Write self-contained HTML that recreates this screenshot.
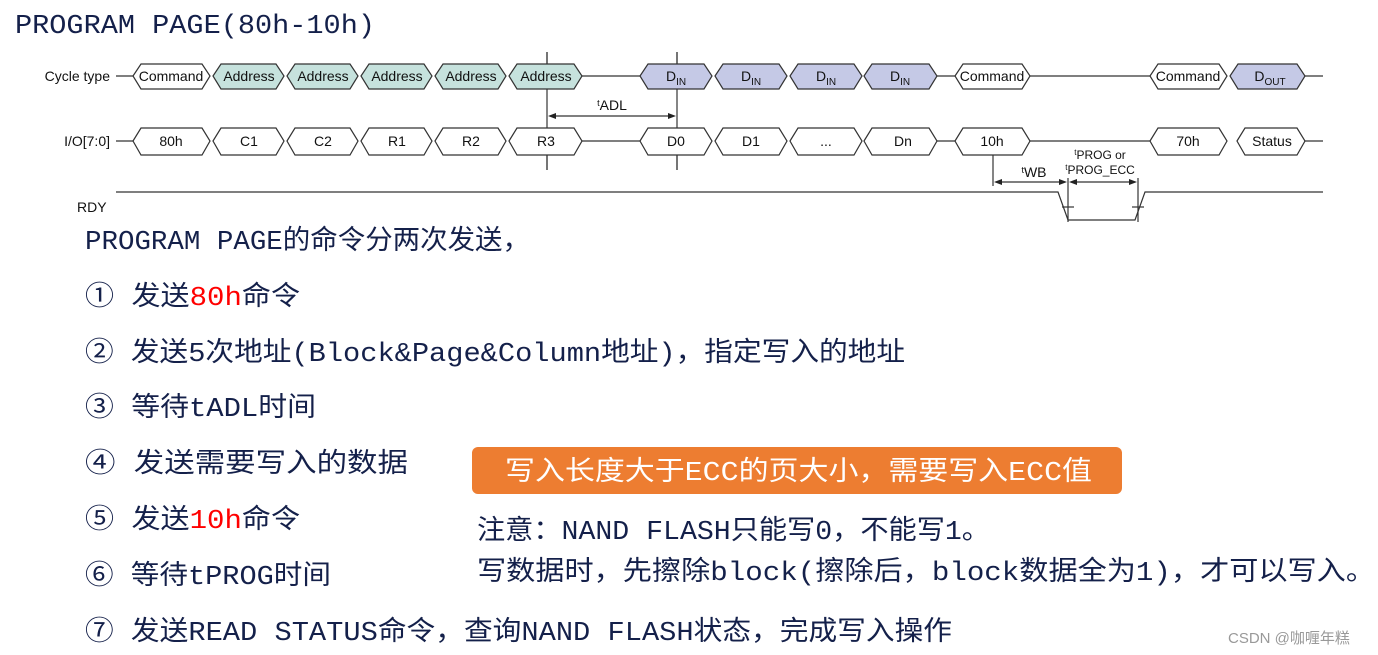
<!DOCTYPE html>
<html><head><meta charset="utf-8"><style>
html,body{margin:0;padding:0;background:#fff;width:1378px;height:655px;overflow:hidden}
svg{display:block}
.d{font-family:"Liberation Sans","DejaVu Sans",sans-serif;font-size:14px;fill:#111}
.b{font-family:"Liberation Mono","Noto Sans CJK SC",monospace;font-size:27px;fill:#14204a}
</style></head><body>
<svg width="1378" height="655" viewBox="0 0 1378 655" xmlns="http://www.w3.org/2000/svg">
<text x="15" y="33" class="b" font-size="29" textLength="360" lengthAdjust="spacingAndGlyphs">PROGRAM PAGE(80h-10h)</text>

<g stroke="#333" stroke-width="1.2" fill="none">
<line x1="116" y1="76" x2="133" y2="76"/><line x1="582" y1="76" x2="640" y2="76"/>
<line x1="937" y1="76" x2="955" y2="76"/><line x1="1030" y1="76" x2="1150" y2="76"/>
<line x1="1305" y1="76" x2="1323" y2="76"/>
<line x1="116" y1="141" x2="133" y2="141"/><line x1="582" y1="141" x2="640" y2="141"/>
<line x1="937" y1="141" x2="955" y2="141"/><line x1="1030" y1="141" x2="1150" y2="141"/>
<line x1="1305" y1="141" x2="1323" y2="141"/>
<line x1="547" y1="52" x2="547" y2="170"/><line x1="677" y1="52" x2="677" y2="170"/>
<line x1="993" y1="128" x2="993" y2="186"/><line x1="1068" y1="178" x2="1068" y2="222"/><line x1="1138" y1="178" x2="1138" y2="222"/>
<line x1="552" y1="116" x2="672" y2="116"/>
<line x1="998" y1="182" x2="1063" y2="182"/>
<line x1="1073" y1="182" x2="1133" y2="182"/>
<polyline points="116,192 1058,192 1068,220 1135,220 1145,192 1323,192"/>
<line x1="1062" y1="207" x2="1074" y2="207"/><line x1="1132" y1="207" x2="1144" y2="207"/>
</g>
<g fill="#222">
<polygon points="548,116 556,113 556,119"/><polygon points="676,116 668,113 668,119"/>
<polygon points="994,182 1002,179 1002,185"/><polygon points="1067,182 1059,179 1059,185"/>
<polygon points="1069,182 1077,179 1077,185"/><polygon points="1137,182 1129,179 1129,185"/>
</g>

<g stroke="#333" stroke-width="1.2">
<polygon fill="#fff" points="133,76 141,64 202,64 210,76 202,89 141,89"/>
<polygon fill="#c6e2dd" points="213,76 221,64 276,64 284,76 276,89 221,89"/>
<polygon fill="#c6e2dd" points="287,76 295,64 350,64 358,76 350,89 295,89"/>
<polygon fill="#c6e2dd" points="361,76 369,64 424,64 432,76 424,89 369,89"/>
<polygon fill="#c6e2dd" points="435,76 443,64 498,64 506,76 498,89 443,89"/>
<polygon fill="#c6e2dd" points="509,76 517,64 574,64 582,76 574,89 517,89"/>
<polygon fill="#c5c9e6" points="640,76 648,64 704,64 712,76 704,89 648,89"/>
<polygon fill="#c5c9e6" points="715,76 723,64 779,64 787,76 779,89 723,89"/>
<polygon fill="#c5c9e6" points="790,76 798,64 854,64 862,76 854,89 798,89"/>
<polygon fill="#c5c9e6" points="864,76 872,64 929,64 937,76 929,89 872,89"/>
<polygon fill="#fff" points="955,76 963,64 1022,64 1030,76 1022,89 963,89"/>
<polygon fill="#fff" points="1150,76 1158,64 1219,64 1227,76 1219,89 1158,89"/>
<polygon fill="#c5c9e6" points="1230,76 1238,64 1297,64 1305,76 1297,89 1238,89"/>
<polygon fill="#fff" points="133,141 141,128 202,128 210,141 202,155 141,155"/>
<polygon fill="#fff" points="213,141 221,128 276,128 284,141 276,155 221,155"/>
<polygon fill="#fff" points="287,141 295,128 350,128 358,141 350,155 295,155"/>
<polygon fill="#fff" points="361,141 369,128 424,128 432,141 424,155 369,155"/>
<polygon fill="#fff" points="435,141 443,128 498,128 506,141 498,155 443,155"/>
<polygon fill="#fff" points="509,141 517,128 574,128 582,141 574,155 517,155"/>
<polygon fill="#fff" points="640,141 648,128 704,128 712,141 704,155 648,155"/>
<polygon fill="#fff" points="715,141 723,128 779,128 787,141 779,155 723,155"/>
<polygon fill="#fff" points="790,141 798,128 854,128 862,141 854,155 798,155"/>
<polygon fill="#fff" points="864,141 872,128 929,128 937,141 929,155 872,155"/>
<polygon fill="#fff" points="955,141 963,128 1022,128 1030,141 1022,155 963,155"/>
<polygon fill="#fff" points="1150,141 1158,128 1219,128 1227,141 1219,155 1158,155"/>
<polygon fill="#fff" points="1237,141 1245,128 1297,128 1305,141 1297,155 1245,155"/>
</g>
<g stroke="#333" stroke-width="1.2"><line x1="547" y1="52" x2="547" y2="64"/><line x1="547" y1="155" x2="547" y2="170"/><line x1="677" y1="52" x2="677" y2="64"/><line x1="677" y1="155" x2="677" y2="170"/></g>

<g class="d" text-anchor="middle">
<text x="171" y="81">Command</text><text x="249" y="81">Address</text><text x="323" y="81">Address</text>
<text x="397" y="81">Address</text><text x="471" y="81">Address</text><text x="546" y="81">Address</text>
<text x="676" y="81">D<tspan font-size="10" dy="4">IN</tspan></text>
<text x="751" y="81">D<tspan font-size="10" dy="4">IN</tspan></text>
<text x="826" y="81">D<tspan font-size="10" dy="4">IN</tspan></text>
<text x="900" y="81">D<tspan font-size="10" dy="4">IN</tspan></text>
<text x="992" y="81">Command</text><text x="1188" y="81">Command</text>
<text x="1270" y="81">D<tspan font-size="10" dy="4">OUT</tspan></text>
<text x="171" y="146">80h</text><text x="249" y="146">C1</text><text x="323" y="146">C2</text>
<text x="397" y="146">R1</text><text x="471" y="146">R2</text><text x="546" y="146">R3</text>
<text x="676" y="146">D0</text><text x="751" y="146">D1</text><text x="826" y="146">...</text>
<text x="903" y="146">Dn</text><text x="992" y="146">10h</text><text x="1188" y="146">70h</text>
<text x="1272" y="146">Status</text>
<text x="612" y="110"><tspan font-size="9" dy="-4">t</tspan><tspan dy="4">ADL</tspan></text>
<text x="1034" y="177"><tspan font-size="9" dy="-4">t</tspan><tspan dy="4">WB</tspan></text>
<text x="1100" y="159" font-size="12"><tspan font-size="8" dy="-4">t</tspan><tspan dy="4">PROG or</tspan></text>
<text x="1100" y="174" font-size="12"><tspan font-size="8" dy="-4">t</tspan><tspan dy="4">PROG_ECC</tspan></text>
</g>
<g class="d" text-anchor="end">
<text x="110" y="81">Cycle type</text><text x="110" y="146">I/O[7:0]</text>
</g>
<text x="77" y="212" class="d">RDY</text>

<text x="85" y="249" class="b" textLength="445" lengthAdjust="spacingAndGlyphs">PROGRAM PAGE的命令分两次发送，</text>
<text x="85" y="305" class="b" textLength="215" lengthAdjust="spacingAndGlyphs">① 发送<tspan fill="#ff0000">80h</tspan>命令</text>
<text x="85" y="361" class="b" textLength="820" lengthAdjust="spacingAndGlyphs">② 发送5次地址(Block&amp;Page&amp;Column地址)，指定写入的地址</text>
<text x="85" y="416" class="b" textLength="231" lengthAdjust="spacingAndGlyphs">③ 等待tADL时间</text>
<text x="85" y="472" class="b" textLength="323" lengthAdjust="spacingAndGlyphs">④ 发送需要写入的数据</text>
<text x="85" y="528" class="b" textLength="215" lengthAdjust="spacingAndGlyphs">⑤ 发送<tspan fill="#ff0000">10h</tspan>命令</text>
<text x="85" y="584" class="b" textLength="246" lengthAdjust="spacingAndGlyphs">⑥ 等待tPROG时间</text>
<text x="85" y="640" class="b" textLength="867" lengthAdjust="spacingAndGlyphs">⑦ 发送READ STATUS命令，查询NAND FLASH状态，完成写入操作</text>

<rect x="472" y="447" width="650" height="47" rx="6" fill="#ed7d31"/>
<text x="505" y="480" class="b" style="fill:#fff" textLength="587" lengthAdjust="spacingAndGlyphs">写入长度大于ECC的页大小，需要写入ECC值</text>

<text x="477" y="539" class="b" font-size="26" textLength="513" lengthAdjust="spacingAndGlyphs">注意：NAND FLASH只能写0，不能写1。</text>
<text x="477" y="580" class="b" font-size="26" textLength="898" lengthAdjust="spacingAndGlyphs">写数据时，先擦除block(擦除后，block数据全为1)，才可以写入。</text>

<text x="1228" y="643" font-family="Liberation Sans,Noto Sans CJK SC,sans-serif" font-size="15" fill="#999">CSDN @咖喱年糕</text>
</svg>
</body></html>
